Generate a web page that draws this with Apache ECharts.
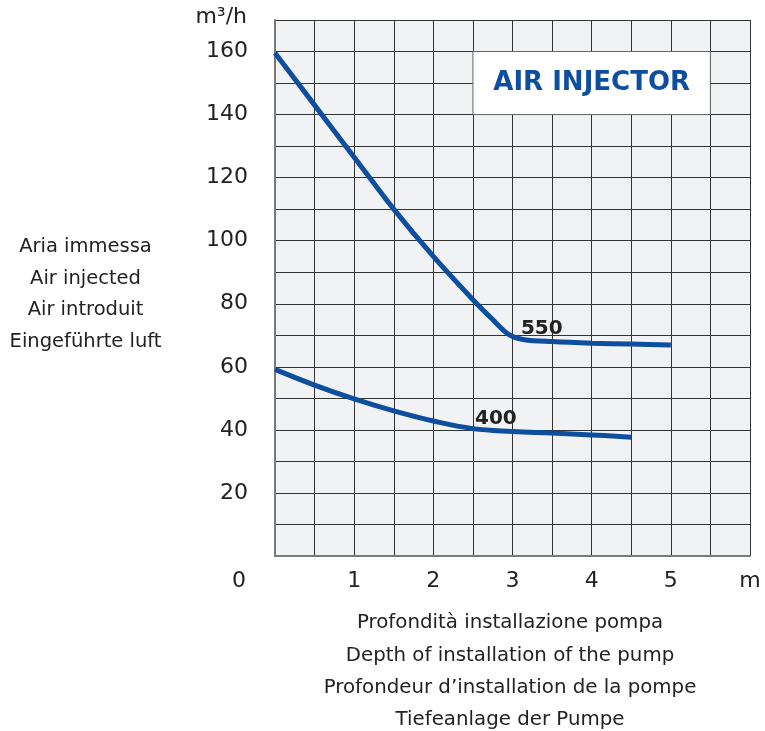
<!DOCTYPE html>
<html>
<head>
<meta charset="utf-8">
<script src="https://cdn.jsdelivr.net/npm/echarts@6/dist/echarts.min.js"></script>
<style>
  html, body { margin: 0; padding: 0; background: #ffffff; }
  #chart { width: 765px; height: 731px; }
</style>
</head>
<body>
<div id="chart"></div>
<script>
// Air injected (m³/h) against installation depth (m) for two pump models
const depth550 = [0, 0.5, 1, 1.5, 2, 2.5, 2.75, 2.95, 3.15, 3.5, 4, 4.5, 5];
const air550   = [159.5, 143, 126.5, 110, 95, 81.3, 75, 70.3, 68.6, 68, 67.5, 67.2, 66.9];
const depth400 = [0, 0.5, 1, 1.5, 2, 2.5, 3, 3.5, 4, 4.5];
const air400   = [59.2, 54.2, 49.8, 46, 42.8, 40.4, 39.5, 39, 38.4, 37.7];

const modelNames = ['550', '400'];
const modelLabelAt = [[3.37, 72.1], [2.79, 43.6]];
const boxTitle = 'AIR INJECTOR';
const boxCorners = [[2.5, 160], [5.5, 140]];

const yTitleLines = ['Aria immessa', 'Air injected', 'Air introduit', 'Eingeführte luft'];
const xTitleLines = ['Profondità installazione pompa', 'Depth of installation of the pump',
                     'Profondeur d’installation de la pompe', 'Tiefeanlage der Pumpe'];
const xUnit = 'm';
const yUnit = 'm³/h';

const BLUE = '#0d4e9f';
const TEXT = '#222222';
const FONT = 'DejaVu Sans';

const pairs = (xs, ys) => xs.map((x, i) => [x, ys[i]]);

function curveLabel(name, at) {
  return {
    symbol: 'circle',
    symbolSize: 1,
    itemStyle: { color: 'transparent' },
    data: [{
      coord: at,
      label: {
        show: true, position: 'inside', formatter: name,
        color: TEXT, fontFamily: FONT, fontWeight: 'bold', fontSize: 20
      }
    }]
  };
}

const chart = echarts.init(document.getElementById('chart'), null, { renderer: 'canvas' });

chart.setOption({
  animation: false,
  backgroundColor: '#ffffff',
  title: [
    {
      text: yTitleLines.join('\n'),
      left: 85.5, top: 231, textAlign: 'center', padding: 0,
      textStyle: { fontFamily: FONT, fontSize: 19.5, fontWeight: 'normal', color: TEXT, lineHeight: 31.7 }
    },
    {
      text: xTitleLines.join('\n'),
      left: 510, top: 607, textAlign: 'center', padding: 0,
      textStyle: { fontFamily: FONT, fontSize: 19.8, fontWeight: 'normal', color: TEXT, lineHeight: 32.3 }
    }
  ],
  grid: {
    left: 275, right: 15, top: 20, bottom: 175,
    show: true, backgroundColor: '#f1f2f4', borderWidth: 0
  },
  xAxis: {
    type: 'value', min: 0, max: 6, interval: 0.5,
    axisLine: { show: true, lineStyle: { color: '#7a7a7a', width: 2 } },
    axisTick: { show: false },
    splitLine: { show: true, lineStyle: { color: '#333333', width: 1 } },
    axisLabel: {
      margin: 14, fontFamily: FONT, fontSize: 22, color: TEXT,
      formatter: v => {
        if (v === 0) return '{origin|0}';
        if (v === 6) return xUnit;
        return Number.isInteger(v) ? String(v) : '';
      },
      rich: { origin: { fontFamily: FONT, fontSize: 22, color: TEXT, padding: [0, 72, 0, 0] } }
    }
  },
  yAxis: {
    type: 'value', min: 0, max: 170, interval: 10,
    name: yUnit, nameLocation: 'end', nameGap: 3,
    nameTextStyle: { fontFamily: FONT, fontSize: 22, color: TEXT, align: 'right', verticalAlign: 'bottom', padding: [0, 28, -11, 0] },
    axisLine: { show: true, lineStyle: { color: '#7a7a7a', width: 2 } },
    axisTick: { show: false },
    splitLine: { show: true, lineStyle: { color: '#333333', width: 1 } },
    axisLabel: {
      margin: 27, fontFamily: FONT, fontSize: 22, color: TEXT,
      formatter: v => (v > 0 && v <= 160 && v % 20 === 0) ? String(v) : ''
    }
  },
  series: [
    {
      name: modelNames[0], type: 'line',
      data: pairs(depth550, air550),
      smooth: 0.3, showSymbol: false,
      lineStyle: { color: BLUE, width: 5 },
      markPoint: curveLabel(modelNames[0], modelLabelAt[0]),
      markArea: {
        silent: true,
        itemStyle: { color: '#ffffff', borderColor: '#666666', borderWidth: 1 },
        label: {
          show: true, position: 'inside', formatter: boxTitle,
          color: BLUE, fontFamily: FONT, fontWeight: 'bold', fontSize: 26
        },
        data: [[
          { xAxis: boxCorners[0][0], yAxis: boxCorners[0][1] },
          { xAxis: boxCorners[1][0], yAxis: boxCorners[1][1] }
        ]]
      }
    },
    {
      name: modelNames[1], type: 'line',
      data: pairs(depth400, air400),
      smooth: 0.4, showSymbol: false,
      lineStyle: { color: BLUE, width: 5 },
      markPoint: curveLabel(modelNames[1], modelLabelAt[1])
    }
  ]
});
</script>
</body>
</html>
